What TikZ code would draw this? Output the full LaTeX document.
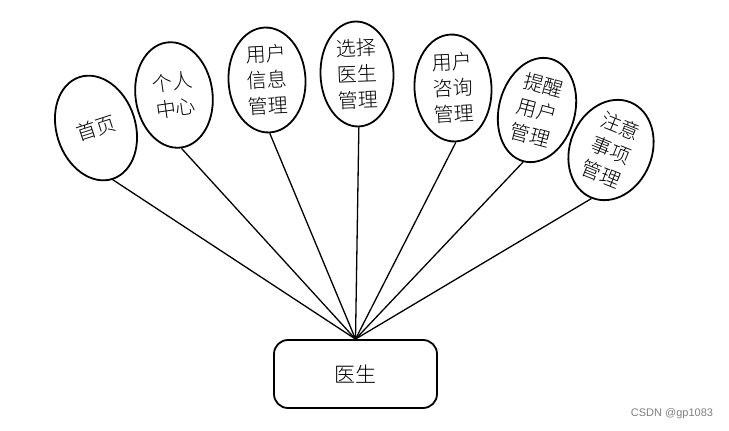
\documentclass[tikz,border=0pt]{standalone}
\usepackage{fontspec}
\newfontfamily\cjk{Noto Sans CJK SC Light}
\newfontfamily\wmfont{Liberation Sans}
\usetikzlibrary{shapes.geometric}
\begin{document}
\begin{tikzpicture}[x=1pt,y=1pt,
  bub/.style={draw, line width=1.8pt, ellipse, inner sep=0pt, align=center,
    font=\cjk\fontsize{20}{26}\selectfont},
  link/.style={line width=1.3pt},
  rootbox/.style={draw, line width=1.8pt, rounded corners=14pt, minimum width=163pt,
    minimum height=68pt, inner sep=0pt, font=\cjk\fontsize{21}{24}\selectfont}]
\useasboundingbox (0,0) rectangle (729,-431);
\node[rootbox] (doc) at (355.5,-374) {医生};
\node[bub, minimum width=79pt, minimum height=107pt, rotate=18] (e1) at (96,-128) {首页};
\node[bub, minimum width=77pt, minimum height=106pt, rotate=8] (e2) at (174,-95) {个人\\中心};
\node[bub, minimum width=77pt, minimum height=105pt, rotate=3] (e3) at (267,-80) {用户\\信息\\管理};
\node[bub, minimum width=73pt, minimum height=105pt, rotate=2] (e4) at (357,-74) {选择\\医生\\管理};
\node[bub, minimum width=77pt, minimum height=107pt, rotate=3] (e5) at (453,-88) {用户\\咨询\\管理};
\node[bub, minimum width=76pt, minimum height=106pt, rotate=-15] (e6) at (537,-110) {提醒\\用户\\管理};
\node[bub, minimum width=82pt, minimum height=103pt, rotate=-22] (e7) at (611,-150) {注意\\事项\\管理};
\foreach \e in {e1,e2,e3,e4,e5,e6,e7}
  \draw[link] (\e.south) -- (doc.north);
\node[text=gray, font=\wmfont\fontsize{11}{13}\selectfont] (wm) at (672,-414) {CSDN @gp1083};
\end{tikzpicture}
\end{document}
